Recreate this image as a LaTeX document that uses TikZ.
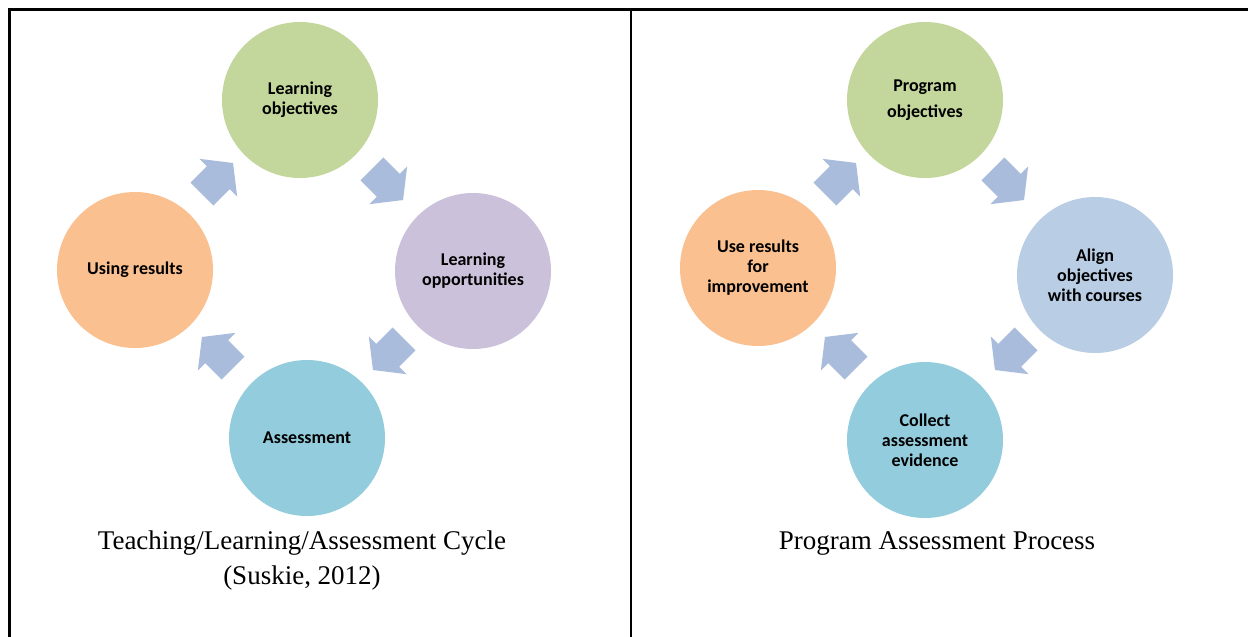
\documentclass[tikz,border=0pt]{standalone}
\usepackage{fontspec}
\setmainfont{Liberation Serif}
\newfontfamily\circfont{Carlito}
\usetikzlibrary{shapes.arrows}

\definecolor{cgreen}{HTML}{C3D69B}
\definecolor{cpurple}{HTML}{CCC1DA}
\definecolor{cteal}{HTML}{93CDDD}
\definecolor{corange}{HTML}{FAC090}
\definecolor{cblue}{HTML}{B9CDE5}
\definecolor{carrow}{HTML}{A9BCDC}

\tikzset{
  stage/.style={circle, minimum size=156pt, inner sep=0pt, align=center,
    font=\circfont\bfseries\fontsize{18}{20}\selectfont, text=black},
  cyclearrow/.style={single arrow, fill=carrow, draw=none, inner sep=0pt,
    minimum height=44pt, single arrow head extend=10.5pt,
    single arrow tip angle=104, single arrow head indent=0pt},
  caption/.style={align=center, font=\fontsize{27}{35}\selectfont},
  frame/.style={line width=2.6pt, black}
}
% shaft thickness of the cycle arrows
\newcommand{\shaft}{\rule{0pt}{32pt}}

\begin{document}
\begin{tikzpicture}[x=1pt, y=-1pt]
  \useasboundingbox (0,0) rectangle (1248,637);
  \fill[white] (0,0) rectangle (1248,637);

  % panel frame
  \coordinate (tl) at (9.5,9.5);
  \coordinate (tr) at (1248,9.5);
  \coordinate (bl) at (9.5,637);
  \coordinate (mt) at (631,9.5);
  \coordinate (mb) at (631,637);
  \draw[frame] (bl) -- (tl) -- (tr);
  \draw[frame] (mt) -- (mb);

  % teaching / learning / assessment cycle
  \node[stage, fill=cgreen]  (lobj) at (300,100) {Learning\\objectives};
  \node[stage, fill=cpurple] (lopp) at (473,271) {Learning\\opportunities};
  \node[stage, fill=cteal]   (lass) at (307,438) {Assessment};
  \node[stage, fill=corange] (luse) at (135,270) {Using results};

  \node[cyclearrow, rotate=-45]  (la1) at (383,180) {\shaft};
  \node[cyclearrow, rotate=-135] (la2) at (393,350) {\shaft};
  \node[cyclearrow, rotate=135]  (la3) at (222,357) {\shaft};
  \node[cyclearrow, rotate=45]   (la4) at (213,183) {\shaft};

  \node[caption] (lcap) at (302,561) {Teaching/Learning/Assessment Cycle\\(Suskie, 2012)};

  % program assessment process
  \node[stage, fill=cgreen]  (pobj) at (925,100) {Program\\[6pt]objectives};
  \node[stage, fill=cblue]   (palg) at (1095,275) {Align\\objectives\\with courses};
  \node[stage, fill=cteal]   (pcol) at (925,440) {Collect\\assessment\\evidence};
  \node[stage, fill=corange] (puse) at (758,268) {Use results\\for\\improvement};

  \node[cyclearrow, rotate=-45]  (pa1) at (1004,180) {\shaft};
  \node[cyclearrow, rotate=-135] (pa2) at (1015,350) {\shaft};
  \node[cyclearrow, rotate=135]  (pa3) at (845,357) {\shaft};
  \node[cyclearrow, rotate=45]   (pa4) at (836,183) {\shaft};

  \node[caption] (pcap) at (937,543) {Program Assessment Process};
\end{tikzpicture}
\end{document}
